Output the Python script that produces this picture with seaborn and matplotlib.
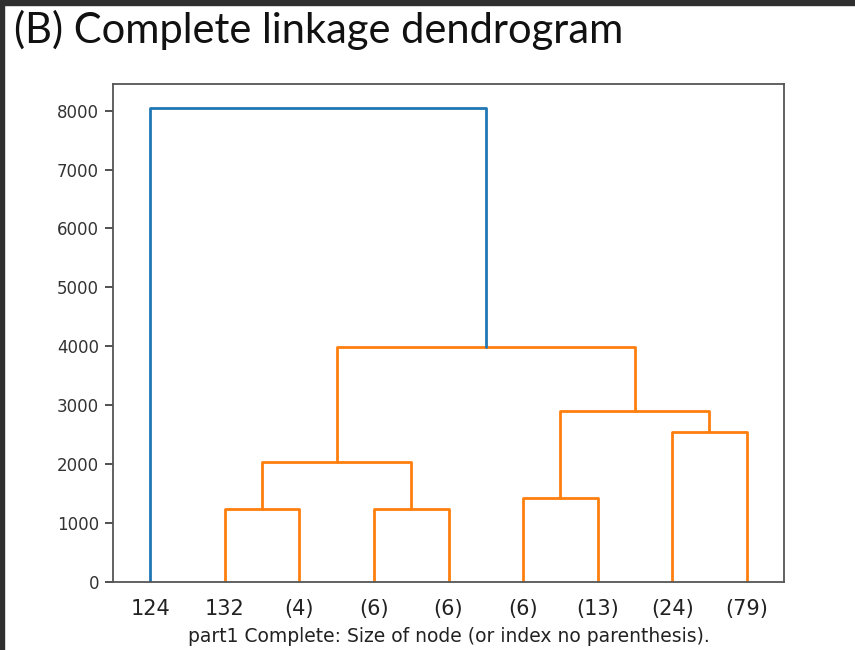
import matplotlib
matplotlib.use("Agg")
import matplotlib.pyplot as plt
import numpy as np
import pandas as pd
import seaborn as sns

# Leaf labels (cluster size in parentheses, raw index otherwise)
leaf_labels = ["124", "132", "(4)", "(6)", "(6)", "(6)", "(13)", "(24)", "(79)"]

# Merge steps: ids < 9 are leaves, ids >= 9 are earlier merges (scipy linkage style)
merge_left = [1, 3, 5, 9, 7, 11, 12, 0]
merge_right = [2, 4, 6, 10, 8, 13, 14, 15]
merge_height = [1235, 1240, 1420, 2030, 2540, 2910, 3990, 8050]

y_ticks = [0, 1000, 2000, 3000, 4000, 5000, 6000, 7000, 8000]
color_threshold = 0.7 * max(merge_height)

n_leaves = len(leaf_labels)
leaf_pos = [5 + 10 * i for i in range(n_leaves)]

# Build the U-shaped link segments
node_x = {i: leaf_pos[i] for i in range(n_leaves)}
node_h = {i: 0.0 for i in range(n_leaves)}
rows = []
for k, (a, b, h) in enumerate(zip(merge_left, merge_right, merge_height)):
    xa, xb = node_x[a], node_x[b]
    ha, hb = node_h[a], node_h[b]
    group = "above" if h > color_threshold else "cluster"
    for order, (xx, yy) in enumerate([(xa, ha), (xa, h), (xb, h), (xb, hb)]):
        rows.append({"x": xx, "y": yy, "link": k, "order": order, "group": group})
    node_x[n_leaves + k] = (xa + xb) / 2
    node_h[n_leaves + k] = h
links = pd.DataFrame(rows)

sns.set_theme(style="white")
plt.rcParams["font.family"] = ["DejaVu Sans"]

fig = plt.figure(figsize=(8.55, 6.5), dpi=100)
ax = fig.add_axes([113 / 855, 1 - 582 / 650, (784 - 113) / 855, (582 - 84) / 650])

sns.lineplot(
    data=links, x="x", y="y", hue="group", units="link", estimator=None,
    sort=False, palette={"above": "#1f77b4", "cluster": "#ff7f0e"},
    linewidth=2.0, legend=False, ax=ax,
)

ax.set_xlim(0, 10 * n_leaves)
ax.set_ylim(0, 1.05 * max(merge_height))
ax.set_xticks(leaf_pos)
ax.set_xticklabels(leaf_labels, fontsize=15, color="#222222")
ax.set_yticks(y_ticks)
ax.set_yticklabels([str(v) for v in y_ticks], fontsize=12, color="#333333")
ax.tick_params(axis="x", bottom=False, pad=6)
ax.tick_params(axis="y", left=True, length=6, width=1.2, color="#333333", pad=4)
ax.set_xlabel("part1 Complete: Size of node (or index no parenthesis).",
              fontsize=13.5, color="#222222", labelpad=6)
ax.set_ylabel("")
for sp in ax.spines.values():
    sp.set_visible(True)
    sp.set_color("#555555")
    sp.set_linewidth(1.3)

# Title and dark frame strip along the top and left edge
fig.text(14 / 855, 1 - 10 / 650, "(B) Complete linkage dendrogram",
         fontsize=30, family=["Lato", "DejaVu Sans"], color="#111111",
         ha="left", va="top")
fig.patches.append(plt.Rectangle((0, 1 - 5 / 650), 1, 5 / 650,
                                 transform=fig.transFigure, color="#2f2f2f"))
fig.patches.append(plt.Rectangle((0, 0), 4 / 855, 1,
                                 transform=fig.transFigure, color="#2f2f2f"))

fig.savefig("out.png", dpi=100, facecolor="white")
